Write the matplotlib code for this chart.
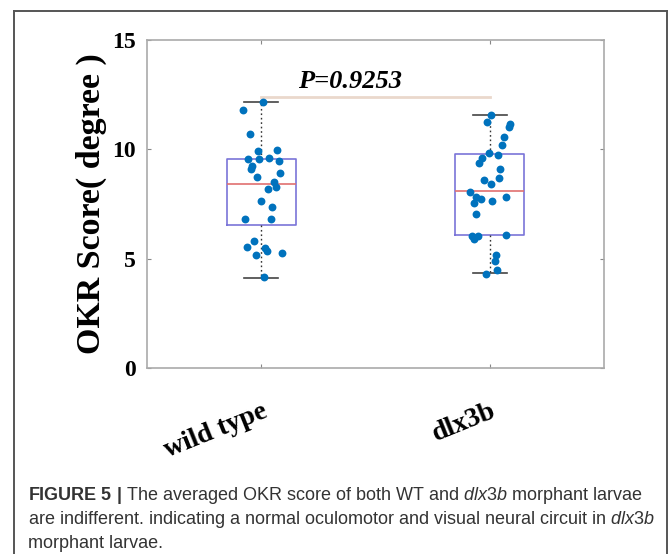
import matplotlib.pyplot as plt
from matplotlib.lines import Line2D

plt.rcParams["mathtext.fontset"] = "custom"
plt.rcParams["mathtext.rm"] = "Liberation Sans"
plt.rcParams["mathtext.it"] = "Liberation Sans:italic"
plt.rcParams["mathtext.bf"] = "Liberation Sans:bold"

# groups
groups = ["wild type", "dlx3b"]

# individual OKR scores (degree), with horizontal jitter
wt_x = [1.007, 0.920, 0.952, 0.986, 1.070, 0.943, 0.988, 1.034, 1.079, 0.961,
        0.955, 1.083, 0.981, 1.057, 1.064, 1.028, 1.000, 1.048, 0.927, 1.042,
        0.969, 0.936, 1.017, 1.025, 0.975, 1.090, 1.012]
wt_y = [12.15, 11.80, 10.69, 9.92, 9.97, 9.57, 9.54, 9.62, 9.48, 9.24,
        9.08, 8.93, 8.75, 8.49, 8.29, 8.18, 7.65, 7.38, 6.80, 6.80,
        5.82, 5.55, 5.50, 5.33, 5.18, 5.27, 4.15]
mo_x = [2.004, 1.988, 2.087, 2.083, 2.064, 2.055, 1.998, 2.037, 1.966, 1.953,
        2.047, 2.039, 1.975, 2.006, 1.912, 1.938, 1.963, 2.011, 2.071, 1.933,
        1.942, 1.921, 1.930, 1.948, 2.069, 2.028, 2.022, 2.032, 1.984]
mo_y = [11.58, 11.26, 11.17, 11.03, 10.58, 10.20, 9.82, 9.75, 9.62, 9.39,
        9.08, 8.67, 8.60, 8.40, 8.03, 7.80, 7.71, 7.65, 7.83, 7.53,
        7.03, 6.04, 5.90, 6.04, 6.07, 5.18, 4.89, 4.48, 4.30]

# box statistics
medians = [8.43, 8.08]
q1 = [6.54, 6.08]
q3 = [9.56, 9.79]
whislo = [4.12, 4.34]
whishi = [12.15, 11.58]

p_text = "P=0.9253"
p_level = 12.4

caption_lines = [
    r"$\mathbf{FIGURE\ 5\ |}$ The averaged OKR score of both WT and $\mathit{dlx3b}$ morphant larvae",
    r"are indifferent. indicating a normal oculomotor and visual neural circuit in $\mathit{dlx3b}$",
    "morphant larvae.",
]

fig = plt.figure(figsize=(6.70, 5.54), dpi=100)

# outer frame (open at the bottom)
frame = dict(color="#555555", lw=1.4, transform=fig.transFigure, clip_on=False)
fig.add_artist(Line2D([14 / 670, 14 / 670], [0, 1 - 11 / 554], **frame))
fig.add_artist(Line2D([667 / 670, 667 / 670], [0, 1 - 11 / 554], **frame))
fig.add_artist(Line2D([14 / 670, 667 / 670], [1 - 11 / 554, 1 - 11 / 554], **frame))

ax = fig.add_axes([147 / 670, 1 - 368 / 554, 457 / 670, 328 / 554])

stats = []
for i in range(2):
    stats.append(dict(med=medians[i], q1=q1[i], q3=q3[i],
                      whislo=whislo[i], whishi=whishi[i], fliers=[]))

ax.bxp(stats, positions=[1, 2], widths=0.3, showfliers=False,
       boxprops=dict(color="#7a74d8", lw=1.2),
       medianprops=dict(color="#e07070", lw=1.2),
       whiskerprops=dict(color="#333333", lw=1.0, linestyle=(0, (1.2, 2.0))),
       capprops=dict(color="#444444", lw=1.2), capwidths=0.15)

ax.scatter(wt_x, wt_y, s=32, color="#0072BD", zorder=3, linewidths=0)
ax.scatter(mo_x, mo_y, s=32, color="#0072BD", zorder=3, linewidths=0)

# significance line
ax.plot([1, 2], [p_level, p_level], color="#ead8cc", lw=2, zorder=1)
ax.text(1.39, 13.1, p_text, ha="center", va="center", fontsize=19,
        fontweight="bold", fontstyle="italic", family="Liberation Serif")

ax.set_xlim(0.5, 2.5)
ax.set_ylim(0, 15)
ax.set_yticks([0, 5, 10, 15])
ax.set_xticks([1, 2])
ax.set_xticklabels(groups, rotation=22, ha="right", rotation_mode="anchor",
                   fontsize=20, fontweight="bold", family="Liberation Serif")
for lab in ax.get_yticklabels():
    lab.set_fontsize(17)
    lab.set_fontweight("bold")
    lab.set_family("Liberation Serif")
ax.tick_params(direction="in", length=3, width=0.8, color="#888888",
               top=True, right=True, pad=8)
ax.tick_params(axis="x", pad=22)
for sp in ax.spines.values():
    sp.set_color("#aaaaaa")
    sp.set_linewidth(1.2)

ax.set_ylabel("OKR Score( degree )", fontsize=24.5, fontweight="bold",
              family="Liberation Serif", labelpad=4)

# caption
for i, line in enumerate(caption_lines):
    fig.text(28 / 670, 1 - (495 + 24 * i) / 554, line, fontsize=13,
             family="Liberation Sans", va="center", color="#333333")

fig.savefig("out.png", dpi=100)
